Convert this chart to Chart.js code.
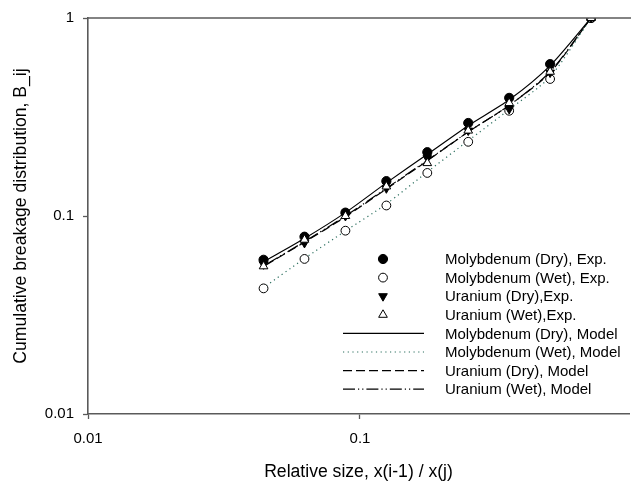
<!DOCTYPE html>
<html>
<head>
<meta charset="utf-8">
<script src="https://cdn.jsdelivr.net/npm/chart.js@4"></script>
<style>
html,body{margin:0;padding:0;background:#fff;overflow:hidden;}
canvas{display:block;}
</style>
</head>
<body>
<canvas id="c" width="635" height="481"></canvas>
<script>
// ---- data ----
const relSize = [0.7071, 0.5, 0.3536, 0.25, 0.1768, 0.125, 0.0884, 0.0625, 0.0442];

const moDryExp = [1, 0.585, 0.395, 0.295, 0.210, 0.150, 0.104, 0.0786, 0.0601];
const moWetExp = [1, 0.492, 0.340, 0.237, 0.165, 0.113, 0.0843, 0.0607, 0.0431];
const uDryExp  = [1, 0.530, 0.347, 0.270, 0.196, 0.138, 0.100, 0.0731, 0.0570];
const uWetExp  = [1, 0.535, 0.372, 0.270, 0.185, 0.141, 0.100, 0.0759, 0.0557];

const moDryModel = [1, 0.575, 0.386, 0.286, 0.205, 0.147, 0.104, 0.0770, 0.0588];
const moWetModel = [1, 0.505, 0.345, 0.240, 0.167, 0.115, 0.0840, 0.0610, 0.0435];
const uDryModel  = [1, 0.530, 0.362, 0.266, 0.190, 0.137, 0.0990, 0.0738, 0.0556];
const uWetModel  = [1, 0.535, 0.362, 0.266, 0.191, 0.138, 0.1000, 0.0742, 0.0560];

const seriesLabels = [
  'Molybdenum (Dry), Exp.',
  'Molybdenum (Wet), Exp.',
  'Uranium (Dry),Exp.',
  'Uranium (Wet),Exp.',
  'Molybdenum (Dry), Model',
  'Molybdenum (Wet), Model',
  'Uranium (Dry), Model',
  'Uranium (Wet), Model'
];

const xTicks = [0.01, 0.1, 1];
const yTicks = [0.01, 0.1, 1];
const xRange = [0.01, 0.975];
const yRange = [0.01, 1];

const xTitle = 'Relative size, x(i-1) / x(j)';
const yTitle = 'Cumulative breakage distribution, B_ij';

// ---- build datasets ----
const pts = ys => relSize.map((x, i) => ({x: x, y: ys[i]}));
const FONT = '"Liberation Sans", Arial, sans-serif';

const datasets = [
  {label: seriesLabels[0], data: pts(moDryExp), showLine: false, pointStyle: 'circle', pointRadius: 4.6,
   pointBackgroundColor: '#000', pointBorderColor: '#000', pointBorderWidth: 1, order: 4},
  {label: seriesLabels[1], data: pts(moWetExp), showLine: false, pointStyle: 'circle', pointRadius: 4.4,
   pointBackgroundColor: '#fff', pointBorderColor: '#000', pointBorderWidth: 1, order: 3},
  {label: seriesLabels[2], data: pts(uDryExp), showLine: false, pointStyle: 'triangle', pointRotation: 180, pointRadius: 5,
   pointBackgroundColor: '#000', pointBorderColor: '#000', pointBorderWidth: 1, order: 2},
  {label: seriesLabels[3], data: pts(uWetExp), showLine: false, pointStyle: 'triangle', pointRadius: 5,
   pointBackgroundColor: '#fff', pointBorderColor: '#000', pointBorderWidth: 1, order: 1},
  {label: seriesLabels[4], data: pts(moDryModel), showLine: true, pointRadius: 0, borderColor: '#000', borderWidth: 1.2,
   borderDash: [], tension: 0.25, order: 5},
  {label: seriesLabels[5], data: pts(moWetModel), showLine: true, pointRadius: 0, borderColor: '#2a6e5e', borderWidth: 1.2,
   borderDash: [1.2, 3.5], tension: 0.25, order: 6},
  {label: seriesLabels[6], data: pts(uDryModel), showLine: true, pointRadius: 0, borderColor: '#000', borderWidth: 1.2,
   borderDash: [9, 4], tension: 0.25, order: 7},
  {label: seriesLabels[7], data: pts(uWetModel), showLine: true, pointRadius: 0, borderColor: '#000', borderWidth: 1.2,
   borderDash: [12, 3, 1.2, 3, 1.2, 3], tension: 0.25, order: 8}
];

// ---- custom frame + legend ----
const framePlugin = {
  id: 'frame',
  afterDatasetsDraw(chart) {
    const {ctx, chartArea: a} = chart;
    ctx.save();
    ctx.strokeStyle = '#5a5a5a';
    ctx.lineWidth = 1.6;
    ctx.beginPath();
    ctx.moveTo(a.left, a.top);
    ctx.lineTo(a.right + 2, a.top);
    ctx.stroke();
    ctx.restore();
  }
};

const legendPlugin = {
  id: 'customLegend',
  afterDatasetsDraw(chart) {
    const ctx = chart.ctx;
    const rowY0 = 259, rowStep = 18.6;
    const markX = 383, lineX0 = 343, lineX1 = 424, textX = 445;
    ctx.save();
    chart.data.datasets.forEach((ds, i) => {
      const y = rowY0 + i * rowStep;
      if (ds.showLine) {
        ctx.strokeStyle = ds.borderColor;
        ctx.lineWidth = ds.borderWidth;
        ctx.setLineDash(ds.borderDash || []);
        ctx.beginPath();
        ctx.moveTo(lineX0, y);
        ctx.lineTo(lineX1, y);
        ctx.stroke();
        ctx.setLineDash([]);
      } else {
        ctx.fillStyle = ds.pointBackgroundColor;
        ctx.strokeStyle = ds.pointBorderColor;
        ctx.lineWidth = ds.pointBorderWidth;
        Chart.helpers.drawPoint(ctx, {
          pointStyle: ds.pointStyle, rotation: ds.pointRotation || 0,
          radius: ds.pointRadius, borderWidth: ds.pointBorderWidth
        }, markX, y);
      }
      ctx.fillStyle = '#000';
      ctx.font = '15px ' + FONT;
      ctx.textAlign = 'left';
      ctx.textBaseline = 'middle';
      ctx.fillText(ds.label, textX, y + 1);
    });
    ctx.restore();
  }
};

new Chart(document.getElementById('c'), {
  type: 'scatter',
  data: {datasets: datasets},
  plugins: [framePlugin, legendPlugin],
  options: {
    responsive: false,
    animation: false,
    layout: {padding: {top: 18, right: 0, bottom: 0, left: 0}},
    plugins: {legend: {display: false}, tooltip: {enabled: false}},
    scales: {
      x: {
        type: 'logarithmic',
        min: xRange[0], max: xRange[1],
        afterBuildTicks: s => { s.ticks = xTicks.filter(v => v >= s.min && v <= s.max).map(v => ({value: v})); },
        afterFit: s => { s.height = 67; },
        ticks: {
          color: '#000', font: {family: FONT, size: 15}, padding: 11, maxRotation: 0, autoSkip: false,
          callback: v => String(v)
        },
        grid: {drawOnChartArea: false, drawTicks: true, tickLength: 5, tickColor: '#5a5a5a', tickWidth: 1.3},
        border: {display: true, color: '#5a5a5a', width: 1.6},
        title: {display: true, text: xTitle, color: '#000', font: {family: FONT, size: 17.6, lineHeight: 1.0}, padding: {top: 10, bottom: 0}}
      },
      y: {
        type: 'logarithmic',
        min: yRange[0], max: yRange[1],
        afterBuildTicks: s => { s.ticks = yTicks.map(v => ({value: v})); },
        afterFit: s => { s.width = 88; },
        ticks: {
          color: '#000', font: {family: FONT, size: 15}, padding: 9, autoSkip: false,
          callback: v => String(v)
        },
        grid: {drawOnChartArea: false, drawTicks: true, tickLength: 5, tickColor: '#5a5a5a', tickWidth: 1.3},
        border: {display: true, color: '#5a5a5a', width: 1.6},
        title: {display: true, text: yTitle, color: '#000', font: {family: FONT, size: 17.6}, padding: {top: 11, bottom: 0}}
      }
    }
  }
});
</script>
</body>
</html>
